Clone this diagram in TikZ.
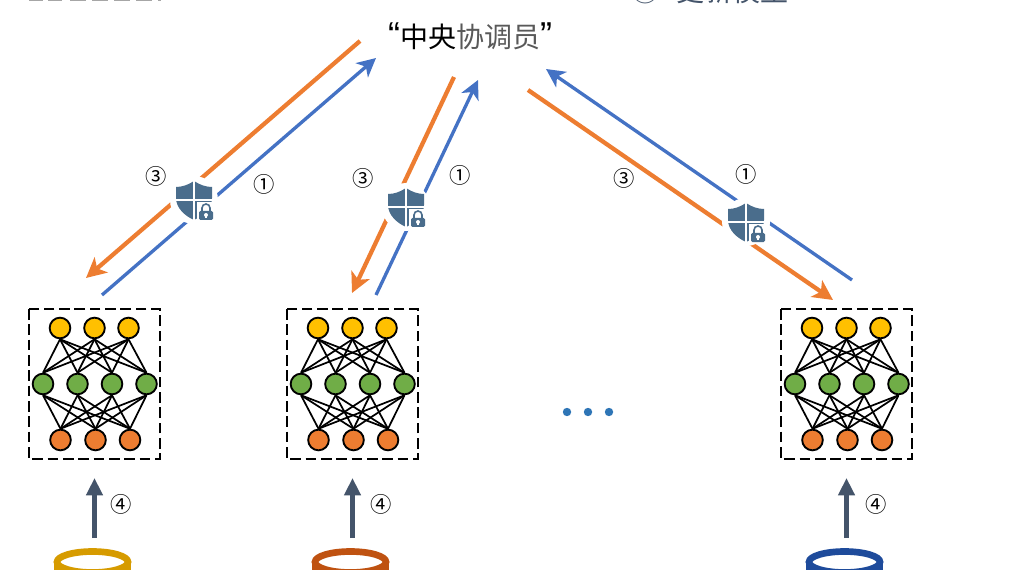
\documentclass[tikz,border=0pt]{standalone}
\usepackage{fontspec}
\usetikzlibrary{arrows.meta}
\setmainfont{Liberation Sans}
\newfontfamily\cjk{Noto Sans CJK SC}
\definecolor{upblue}{HTML}{4472C4}
\definecolor{downorange}{HTML}{ED7D31}
\definecolor{slate}{HTML}{44546A}
\definecolor{shieldblue}{HTML}{4A6D8C}
\definecolor{topyellow}{HTML}{FFC000}
\definecolor{midgreen}{HTML}{70AD47}
\definecolor{dotblue}{HTML}{2E75B6}
\tikzset{
  neuron/.style={circle,draw=black,line width=1.4pt,minimum size=15.5pt,inner sep=0pt},
  netbox/.style={draw=black,line width=1.4pt,dash pattern=on 8pt off 3.5pt},
  wire/.style={draw=black,line width=1.3pt},
  uparrow/.style={upblue,line width=2.5pt,-{Stealth[length=14pt,width=14pt,inset=4pt]}},
  downarrow/.style={downorange,line width=3.2pt,-{Stealth[length=15pt,width=15pt,inset=4pt]}},
  feedarrow/.style={slate,line width=3.2pt,-{Stealth[length=13pt,width=12pt,inset=0pt]}},
  step label/.style={font=\cjk\fontsize{16}{16}\selectfont,inner sep=0pt},
  guard/.style={circle,fill=white,minimum size=36pt,inner sep=0pt},
  shield/.pic={
    \fill[shieldblue] (0,-19) .. controls (-6,-15) and (-12,-13) .. (-18,-13)
      -- (-18,-2) .. controls (-18,8) and (-9,16) .. (0,20)
      .. controls (9,16) and (18,8) .. (18,-2) -- (18,-13)
      .. controls (12,-13) and (6,-15) .. (0,-19) -- cycle;
    \draw[white,line width=1.8pt] (0,-20) -- (0,21) (-19,0) -- (19,0);
    \fill[white] (3,2) rectangle (21,21);
    \draw[shieldblue,line width=1.2pt] (8,11) -- (8,8) arc (180:360:4) -- (16,11);
    \fill[shieldblue,rounded corners=1pt] (5,11) rectangle (19,20);
    \fill[white] (12,15) circle (2);
    \draw[white,line width=1pt] (12,15) -- (12,18.5);
  }
}
\begin{document}
\begin{tikzpicture}[x=0.75pt,y=-0.75pt]
  \useasboundingbox (0,0) rectangle (1009,570);
  \clip (0,0) rectangle (1009,570);

  % text cut off by the top edge
  \foreach \a/\b in {29/43,48/62,70/86,92/108,114/130,136/152,158/161}{
    \fill[gray!70] (\a,0) rectangle (\b,1.5);
  }
  \node (update) [anchor=base west,inner sep=0pt,text=slate,font=\cjk\fontsize{21}{21}\selectfont] at (631,2) {④\hspace{13pt}更新模型};
  \node (center) [inner sep=0pt,font=\cjk\fontsize{21}{21}\selectfont] at (470,36)
    {{\fontsize{27}{27}\selectfont\rmfamily “}中央\textcolor{black!65}{协调员}{\fontsize{27}{27}\selectfont\rmfamily ”}};

  % arrows
  \coordinate (o1s) at (360,41);  \coordinate (o1e) at (86,278);
  \coordinate (b1s) at (102,295); \coordinate (b1e) at (376,58);
  \coordinate (o2s) at (454,77);  \coordinate (o2e) at (352,293);
  \coordinate (b2s) at (376,295); \coordinate (b2e) at (478,80);
  \coordinate (o3s) at (528,90);  \coordinate (o3e) at (833,300);
  \coordinate (b3s) at (852,280); \coordinate (b3e) at (546,69);
  \foreach \n in {1,2,3}{
    \draw[downarrow] (o\n s) -- (o\n e);
    \draw[uparrow] (b\n s) -- (b\n e);
  }

  % shields
  \node (guard1) [guard] at (194,200) {};
  \node (guard2) [guard] at (406,207) {};
  \node (guard3) [guard] at (746,222) {};
  \foreach \n in {1,2,3}{
    \pic at (guard\n) {shield};
  }

  \node (s31) [step label] at (156,176) {③};
  \node (s11) [step label] at (264,184) {①};
  \node (s32) [step label] at (363,178) {③};
  \node (s12) [step label] at (460,175) {①};
  \node (s33) [step label] at (624,178) {③};
  \node (s13) [step label] at (746,174) {①};

  % networks
  \foreach \s/\p/\f/\c in {0/a/121/{214,155,0},258/b/123/{191,82,17},752/c/124/{30,75,155}}{
    \begin{scope}[xshift=\s*0.75pt]
      \draw[netbox] (29,309) rectangle (160,459);
      \foreach \n/\x in {1/60,2/94.5,3/128.5}{
        \node (\p t\n) [neuron,fill=topyellow] at (\x,328) {};
      }
      \foreach \n/\x in {1/43,2/77.5,3/112,4/146.5}{
        \node (\p m\n) [neuron,fill=midgreen] at (\x,384) {};
      }
      \foreach \n/\x in {1/60.5,2/95.5,3/130}{
        \node (\p b\n) [neuron,fill=downorange] at (\x,440) {};
      }
      \foreach \i in {1,2,3}{
        \foreach \j in {1,...,4}{
          \draw[wire] (\p t\i.south) -- (\p m\j.north);
          \draw[wire] (\p b\i.north) -- (\p m\j.south);
        }
      }

      \coordinate (\p foot) at (94.5,538);
      \coordinate (\p head) at (94.5,478);
      \draw[feedarrow] (\p foot) -- (\p head);
      \node (\p four) [step label] at (\f,504) {④};

      % database
      \definecolor{dbcolor}{RGB}{\c}
      \draw[dbcolor,line width=5pt] (92.5,562) ellipse (35.5 and 10.5);
      \draw[dbcolor,line width=5pt] (57,562) -- (57,580) (128,562) -- (128,580);
    \end{scope}
  }

  \foreach \x in {567,588,609}{
    \fill[dotblue] (\x,412) circle (4.2);
  }
\end{tikzpicture}
\end{document}
